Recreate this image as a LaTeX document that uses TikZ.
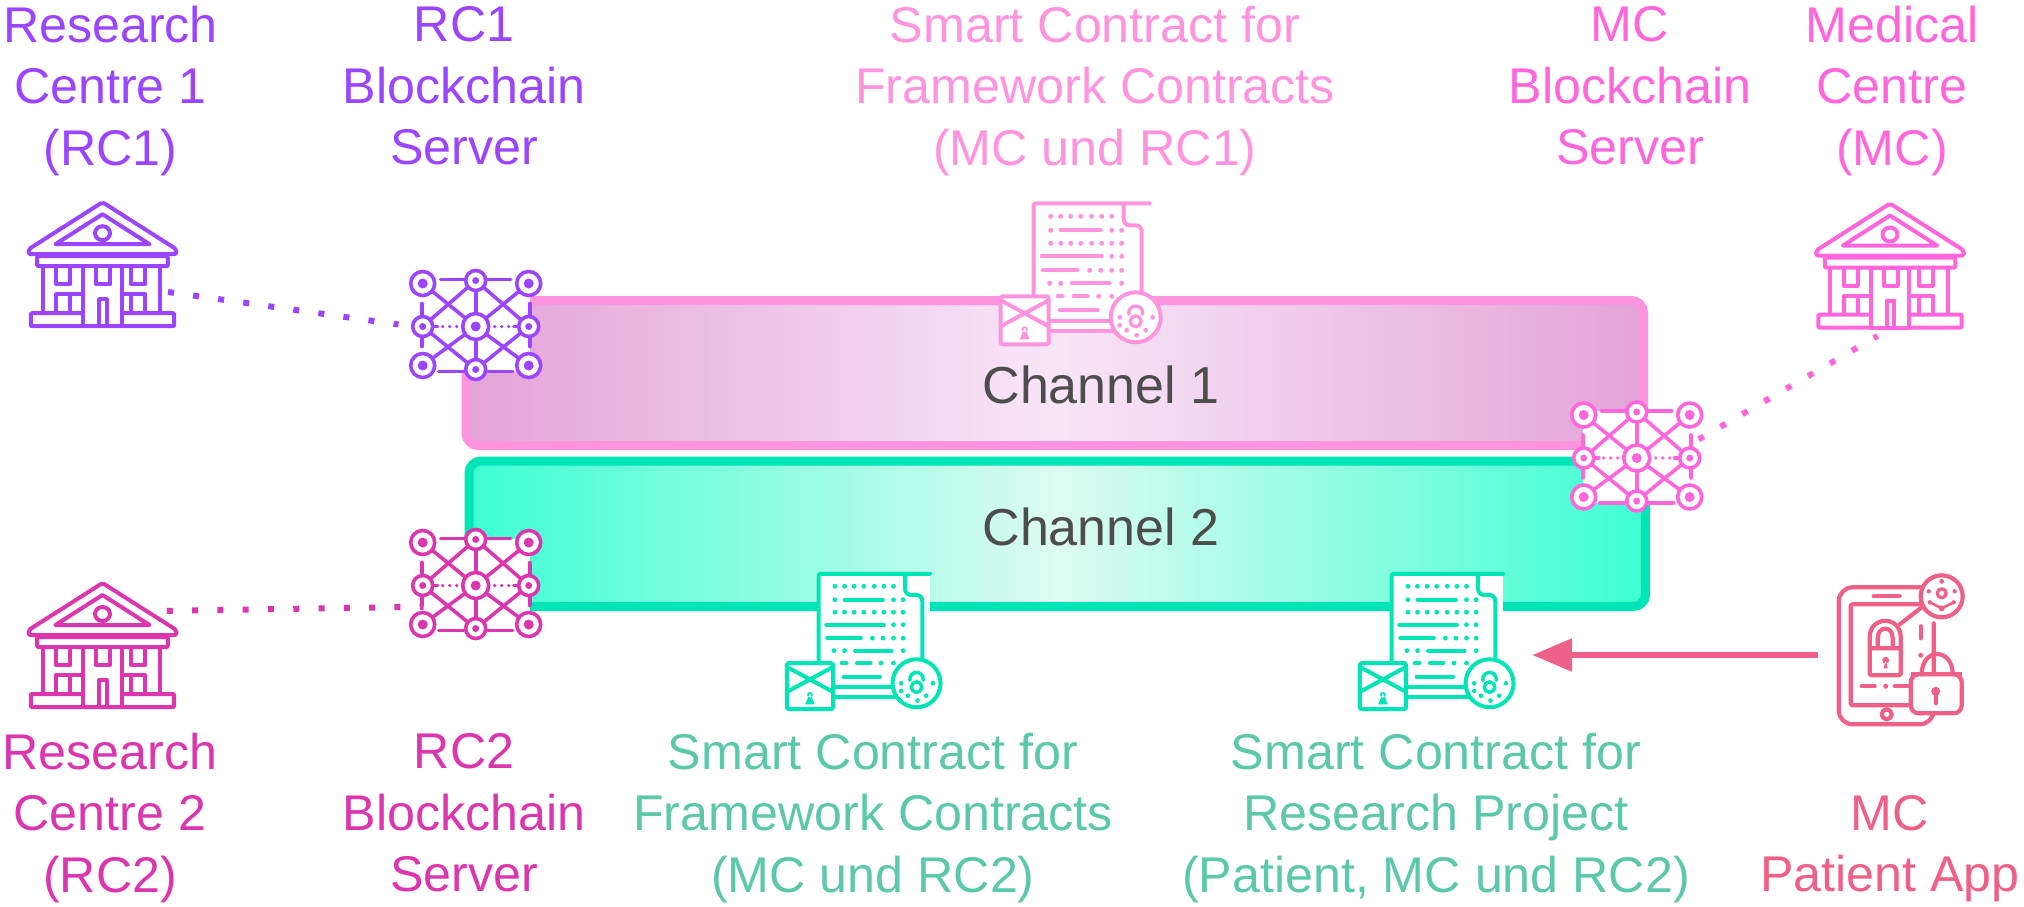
\documentclass[tikz,border=0pt]{standalone}
\usepackage{fontspec}
\setmainfont{Liberation Sans}
\usetikzlibrary{arrows.meta}
\definecolor{rcone}{HTML}{9B45FF}
\definecolor{rctwo}{HTML}{DC36AE}
\definecolor{mcp}{HTML}{FF66DC}
\definecolor{pinkc}{HTML}{FF94DE}
\definecolor{chonee}{HTML}{E3A3D8}
\definecolor{chonem}{HTML}{F8E6F8}
\definecolor{greenc}{HTML}{00E5B5}
\definecolor{chtwoe}{HTML}{3DFFD3}
\definecolor{chtwom}{HTML}{DDFBF1}
\definecolor{greent}{HTML}{5CC8AA}
\definecolor{appc}{HTML}{EE6088}
\definecolor{chtext}{HTML}{4D4D4D}
\tikzset{
  x=1pt,y=-1pt,
  lbl/.style={align=center,font=\fontsize{50.2}{61.5}\selectfont,inner sep=0pt,execute at begin node=\strut,execute at end node=\strut},
  chlbl/.style={font=\fontsize{52}{60}\selectfont,text=chtext,inner sep=0pt},
  hook/.style={circle,inner sep=0pt,draw=none},
  boxhook/.style={rectangle,inner sep=0pt,draw=none},
  dotline/.style={line width=6pt,dash pattern=on 6pt off 19.3pt},
  chan/.style={line width=9pt,rounded corners=12pt},
  pics/building/.style={code={
    \begin{scope}[xscale=1.07,draw=#1,line width=4pt,line join=round,line cap=round]
      \path[fill=white,rounded corners=1.5pt] (-61,-8) rectangle (61,62);
      \draw[fill=white,rounded corners=2pt] (0,-62) -- (69,-15) -- (69,-10) -- (-69,-10) -- (-69,-15) -- cycle;
      \draw (0,-50) -- (-44,-20) -- (44,-20) -- cycle;
      \draw[fill=white] (0,-31) circle (7);
      \draw[rounded corners=1pt] (-61,-8) rectangle (61,2);
      \draw (-56,2) -- (-56,48) (54,2) -- (54,48);
      \draw[fill=white,rounded corners=1pt] (-67,49) rectangle (67,62);
      \draw[fill=white] (-18,2) rectangle (18,62);
      \draw (-3,35) -- (-3,62) (4,35) -- (4,62) (-3,35) -- (4,35);
      \draw (-43,2) -- (-43,20) -- (-30,20) -- (-30,2);
      \draw (-6,2) -- (-6,20) -- (7,20) -- (7,2);
      \draw (27,2) -- (27,20) -- (40,20) -- (40,2);
      \draw (-43,48) -- (-43,30) -- (-30,30) -- (-30,48);
      \draw (27,48) -- (27,30) -- (40,30) -- (40,48);
      \draw (-30,30) -- (-18,30) (18,30) -- (27,30);
    \end{scope}
  }},
  pics/server/.style={code={
    \begin{scope}[draw=#1,line width=3.6pt,line cap=round]
      \fill[white] (-54,-45) rectangle (54,47);
      \draw (-53,-41) -- (0,2) -- (53,-41) (-53,41) -- (0,2) -- (53,41);
      \draw (-53,2) -- (0,-44) -- (53,2) -- (0,45) -- cycle;
      \draw (0,-44) -- (0,45);
      \draw (-35,-45) -- (-12,-45) (12,-45) -- (35,-45);
      \draw (-37,47) -- (-12,47) (12,47) -- (37,47);
      \draw (-54,-21) -- (-54,-9) (-54,13) -- (-54,22);
      \draw (54,-21) -- (54,-9) (54,13) -- (54,22);
      \fill[white] (-40,-3) rectangle (-15,7) (15,-3) rectangle (40,7);
      \draw (-42,2) -- (-38,2) (38,2) -- (42,2);
      \foreach \q in {-33,-26,-19,19,26,33} {\fill[#1] (\q,2) circle (1.8);}
      \foreach \a/\b in {-53/-41,53/-41,-53/41,53/41} {
        \draw[fill=white] (\a,\b) circle (12);
        \fill[#1] (\a,\b) circle (5);}
      \foreach \a/\b in {0/-44,0/45,-53/2,53/2} {
        \draw[fill=white] (\a,\b) circle (10);
        \fill[#1] (\a,\b) circle (3.5);}
      \draw[fill=white] (0,2) circle (13);
      \fill[#1] (0,2) circle (5);
    \end{scope}
  }},
  pics/contract/.style 2 args={code={
    \begin{scope}[scale=#2,draw=#1,line width=4pt,line cap=round,line join=round]
      \fill[white] (-58,-71) rectangle (58,58);
      \draw[rounded corners=2pt] (-58,30) -- (-58,-70) -- (58,-70);
      \draw[rounded corners=6pt] (32,-70) -- (32,-48) -- (50,-48) -- (50,30);
      \draw (-42,48) -- (30,48) (-42,58) -- (30,58);
      \foreach \y/\xs in {-57/{-41,-31,-21,-11,0,10,20},
                          -43/{-41,20,30},
                          -30/{-41,-31,-21,-11,0,10,20,30},
                          -17/{20,30},
                          -3/{-2,9,20,30},
                          10/{-42,-31,30},
                          23/{7,20}} {
        \foreach \x in \xs {\fill[#1] (\x,\y) circle (2.5);}
      }
      \draw (-31,-43) -- (9,-43) (-50,-17) -- (10,-17) (-49,-3) -- (-14,-3);
      \draw (-20,10) -- (18,10) (-34,23) -- (-29,23) (-18,23) -- (-4,23) (-32,37) -- (6,37);
      \draw[fill=white,rounded corners=2pt] (-91,23) rectangle (-43,71);
      \draw (-91,27) -- (-43,53) (-43,27) -- (-91,53);
      \fill[#1] (-67,56) circle (3) (-67,54) -- (-72,66) -- (-62,66) -- cycle;
      \draw[fill=white] (44,44) circle (25);
      \draw[line width=3.4pt] (44,48) circle (5.5);
      \draw[line width=3.4pt] (37,41) .. controls (36,30) and (52,30) .. (51,41);
      \foreach \a/\b in {28/44,61/44,28/52,35/57,45/62,54/57} {\fill[#1] (\a,\b) circle (2.4);}
    \end{scope}
  }},
  pics/patientapp/.style={code={
    \begin{scope}[draw=#1,line width=4.2pt,line cap=round,line join=round]
      \fill[white] (-48,-66) rectangle (47,71);
      \draw[rounded corners=14pt] (34,-66) -- (-48,-66) -- (-48,71) -- (47,71) -- (47,-30);
      \draw[rounded corners=2pt] (33,-49) -- (-36,-49) -- (-36,52) -- (33,52);
      \draw (-13,-57) -- (13,-57);
      \draw (0,61) circle (5);
      \draw[rounded corners=1.5pt] (-17,-5) rectangle (14,22);
      \draw (-17,-5) -- (-17,-16) .. controls (-17,-38) and (14,-38) .. (14,-16) -- (14,-5);
      \draw (-9,-5) -- (-9,-15) .. controls (-9,-28) and (6,-28) .. (6,-15) -- (6,-5);
      \fill[#1] (-1,7) circle (3.5) (-1,7) -- (-3,15) -- (1,15) -- cycle;
      \draw (13,-29) -- (35,-46);
      \draw (34,-27) -- (34,-15);
      \fill[#1] (34,2) circle (2.5);
      \draw (-25,33) -- (-12,33) (8,33) -- (23,33);
      \fill[#1] (-1,33) circle (2.5);
      \draw[fill=white,rounded corners=8pt] (24,21) -- (75,21) -- (75,60) -- (24,60) -- cycle;
      \draw[line cap=butt] (24,21) -- (75,21);
      \draw (35,21) .. controls (35,-6) and (66,-6) .. (66,21);
      \fill[#1] (49,38) circle (4.5);
      \draw (49,38) -- (49,50);
      \draw[fill=white] (55,-57) circle (21);
      \draw[line width=3.2pt] (55,-60) circle (4.5);
      \fill[#1] (55,-72) circle (2.4) (42,-62) circle (2.2) (68,-62) circle (2.2);
      \draw[line width=2.6pt] (43,-51) -- (55,-45) -- (67,-51);
      \fill[#1] (43,-51) circle (2.2) (55,-45) circle (3) (67,-51) circle (2.2);
    \end{scope}
  }},
}
\begin{document}
\begin{tikzpicture}
\useasboundingbox (0,0) rectangle (2024,906);
% channels
\path[chan,draw=pinkc,left color=chonee,right color=chonee,middle color=chonem] (466,300.5) rectangle (1643.5,445.5);
\path[chan,draw=greenc,left color=chtwoe,right color=chtwoe,middle color=chtwom] (469,461) rectangle (1645.5,606.5);
\node[chlbl] (ch1) at (1101,385) {Channel 1};
\node[chlbl] (ch2) at (1101,527) {Channel 2};
% icons
\pic at (102.5,264.2) {building={rcone}};
\pic at (1890,265.5) {building={mcp}};
\pic at (102.5,645) {building={rctwo}};
\pic at (475.7,324.5) {server={rcone}};
\pic at (475.7,583.5) {server={rctwo}};
\pic at (1636.7,456) {server={mcp}};
\pic at (1091.7,273.3) {contract={pinkc}{1}};
\pic at (874.3,641) {contract={greenc}{0.96}};
\pic at (1447.3,641) {contract={greenc}{0.96}};
\pic at (1886.7,653.3) {patientapp={appc}};
% anchors for connectors
\node[hook,minimum size=142pt] (rc1b) at (102.5,264.2) {};
\node[hook,minimum size=154pt] (rc1s) at (475.7,324.5) {};
\node[hook,minimum size=145.2pt] (rc2b) at (102.5,645) {};
\node[hook,minimum size=113.9pt] (rc2s) at (475.7,583.5) {};
\node[hook,minimum size=142.6pt] (mcb) at (1890,265.5) {};
\node[hook,minimum size=127.6pt] (mcs) at (1636.7,456) {};
\node[boxhook,minimum width=137.4pt,minimum height=60pt] (app) at (1886.7,655) {};
\node[boxhook,minimum width=170pt,minimum height=60pt] (proj) at (1447,655) {};
% connectors
\draw[dotline,draw=rcone] (rc1b.-23.3) -- (rc1s.180);
\draw[dotline,draw=rctwo] (rc2b.28.5) -- (rc2s.204);
\draw[dotline,draw=mcp] (mcs.15.65) -- (mcb.260.55);
\draw[appc,line width=6pt,-{Triangle[length=40pt,width=32pt]}] (app.west) -- (proj.east);
% labels
\node[lbl,text=rcone] (t1) at (110.5,94.75) {Research\\Centre 1\\(RC1)};
\node[lbl,text=rcone] (t2) at (464,94.75) {RC1\\Blockchain\\Server};
\node[lbl,text=pinkc] (t3) at (1095,94.75) {Smart Contract for\\Framework Contracts\\(MC und RC1)};
\node[lbl,text=mcp] (t4) at (1630,94.75) {MC\\Blockchain\\Server};
\node[lbl,text=mcp] (t5) at (1892,94.75) {Medical\\Centre\\(MC)};
\node[lbl,text=rctwo] (t6) at (110,821.75) {Research\\Centre 2\\(RC2)};
\node[lbl,text=rctwo] (t7) at (464,821.75) {RC2\\Blockchain\\Server};
\node[lbl,text=greent] (t8) at (873,821.75) {Smart Contract for\\Framework Contracts\\(MC und RC2)};
\node[lbl,text=greent] (t9) at (1436,821.75) {Smart Contract for\\Research Project\\(Patient, MC und RC2)};
\node[lbl,text=appc] (t10) at (1890,852.5) {MC\\Patient App};
\end{tikzpicture}
\end{document}
